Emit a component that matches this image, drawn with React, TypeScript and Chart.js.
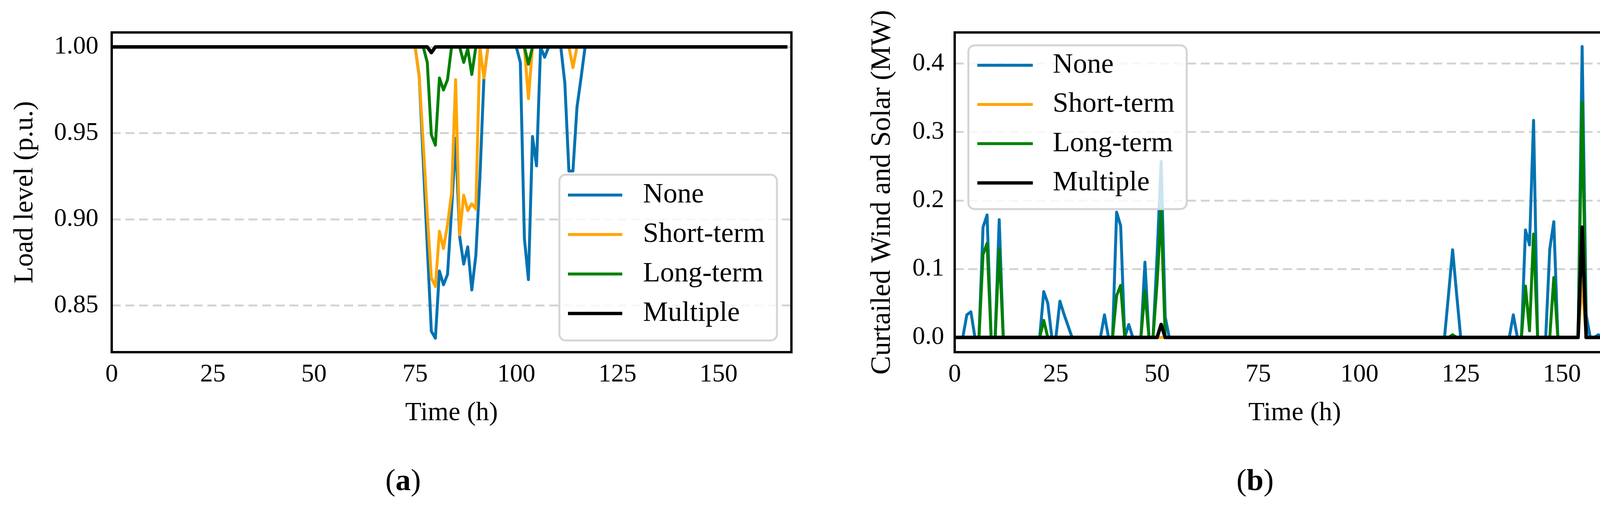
import React, { useEffect, useRef } from 'react';
import { Chart, registerables } from 'chart.js';

Chart.register(...registerables);

const FONT = "'Liberation Serif', 'Times New Roman', serif";

// shared axis / legend data
const hourTicks = [0, 25, 50, 75, 100, 125, 150];
const loadTicks = [0.85, 0.9, 0.95, 1.0];
const curtailTicks = [0, 0.1, 0.2, 0.3, 0.4];
const seriesNames = ['None', 'Short-term', 'Long-term', 'Multiple'];
const seriesColors = ['#0173b2', '#ffa500', '#008000', '#000000'];

// (a) load level, [hour, p.u.] breakpoints
const loadNone: [number, number][] = [
  [0, 1], [75, 1], [76, 0.983], [77, 0.934], [78, 0.884], [79, 0.835], [80, 0.831], [81, 0.87],
  [82, 0.862], [83, 0.868], [84, 0.905], [85, 0.947], [86, 0.89], [87, 0.874], [88, 0.884],
  [89, 0.859], [90, 0.879], [91, 0.924], [92, 0.982], [93, 1], [100, 1], [101, 0.991],
  [102, 0.889], [103, 0.865], [104, 0.948], [105, 0.931], [106, 1], [107, 0.994], [108, 1],
  [111, 1], [112, 0.979], [113, 0.928], [114, 0.928], [115, 0.965], [116, 0.982], [117, 1], [167, 1],
];
const loadShort: [number, number][] = [
  [0, 1], [75, 1], [76, 0.983], [77, 0.944], [78, 0.903], [79, 0.866], [80, 0.861], [81, 0.893],
  [82, 0.883], [83, 0.897], [84, 0.915], [85, 0.981], [86, 0.891], [87, 0.914], [88, 0.905],
  [89, 0.909], [90, 0.906], [91, 1], [92, 0.982], [93, 1], [102, 1], [103, 0.97], [104, 1],
  [113, 1], [114, 0.988], [115, 1], [167, 1],
];
const loadLong: [number, number][] = [
  [0, 1], [77, 1], [78, 0.991], [79, 0.949], [80, 0.943], [81, 0.982], [82, 0.975], [83, 0.981],
  [84, 1], [86, 1], [87, 0.991], [88, 0.999], [89, 0.984], [90, 1], [102, 1], [103, 0.99],
  [104, 1], [167, 1],
];
const loadMultiple: [number, number][] = [[0, 1], [78, 1], [79, 0.9967], [80, 1], [167, 1]];

// (b) curtailed wind and solar, [hour, MW] breakpoints
const curtNone: [number, number][] = [
  [0, 0], [2, 0], [3, 0.033], [4, 0.0375], [5, 0], [6, 0], [7, 0.161], [8, 0.179], [9, 0], [10, 0],
  [11, 0.172], [12, 0], [21, 0], [22, 0.067], [23, 0.05], [24, 0], [25, 0], [26, 0.053], [27, 0.034],
  [28, 0.017], [29, 0], [36, 0], [37, 0.033], [38, 0], [39, 0], [40, 0.183], [41, 0.163], [42, 0],
  [43, 0.019], [44, 0], [46, 0], [47, 0.11], [48, 0], [49, 0], [50, 0.12], [51, 0.257], [52, 0.03],
  [53, 0], [121, 0], [122, 0.063], [123, 0.128], [124, 0.063], [125, 0], [137, 0], [138, 0.033],
  [139, 0], [140, 0], [141, 0.157], [142, 0.135], [143, 0.317], [144, 0], [146, 0], [147, 0.129],
  [148, 0.169], [149, 0], [154, 0], [155, 0.425], [156, 0.033], [157, 0], [158, 0], [159, 0.004],
  [160, 0], [163, 0], [164, 0.149], [165, 0.107], [166, 0], [167, 0],
];
const curtShort: [number, number][] = [[0, 0], [154, 0], [155, 0.082], [156, 0], [167, 0]];
const curtLong: [number, number][] = [
  [0, 0], [6, 0], [7, 0.121], [8, 0.1375], [9, 0], [10, 0], [11, 0.129], [12, 0], [21, 0],
  [22, 0.025], [23, 0], [39, 0], [40, 0.061], [41, 0.076], [42, 0], [46, 0], [47, 0.068], [48, 0],
  [49, 0], [50, 0.08], [51, 0.185], [52, 0], [122, 0], [123, 0.004], [124, 0], [140, 0],
  [141, 0.075], [142, 0.0097], [143, 0.151], [144, 0], [147, 0], [148, 0.0875], [149, 0], [154, 0],
  [155, 0.344], [156, 0], [163, 0], [164, 0.065], [165, 0.0056], [166, 0], [167, 0],
];
const curtMultiple: [number, number][] = [
  [0, 0], [50, 0], [51, 0.019], [52, 0], [154, 0], [155, 0.161], [156, 0], [167, 0],
];

type LegendBox = { x: number; y: number; w: number; h: number; firstY: number; step: number; handleX: number; handleW: number; textX: number };

const frameAndLegend = (lb: LegendBox) => ({
  id: 'frameAndLegend',
  afterDatasetsDraw(chart: Chart) {
    const { ctx, chartArea: a } = chart;
    ctx.save();
    ctx.setLineDash([]);
    ctx.strokeStyle = '#000';
    ctx.lineWidth = 6;
    ctx.strokeRect(a.left, a.top, a.right - a.left, a.bottom - a.top);

    ctx.beginPath();
    ctx.roundRect(lb.x, lb.y, lb.w, lb.h, 16);
    ctx.fillStyle = 'rgba(255,255,255,0.8)';
    ctx.fill();
    ctx.strokeStyle = '#d4d4d4';
    ctx.lineWidth = 5;
    ctx.stroke();

    ctx.font = `72px ${FONT}`;
    ctx.textBaseline = 'middle';
    ctx.textAlign = 'left';
    seriesNames.forEach((name, i) => {
      const y = lb.firstY + i * lb.step;
      ctx.strokeStyle = seriesColors[i];
      ctx.lineWidth = i === 3 ? 8.5 : 7.5;
      ctx.beginPath();
      ctx.moveTo(lb.handleX, y);
      ctx.lineTo(lb.handleX + lb.handleW, y);
      ctx.stroke();
      ctx.fillStyle = '#000';
      ctx.fillText(name, lb.textX, y);
    });
    ctx.restore();
  },
});

type PanelProps = {
  left: number;
  series: [number, number][][];
  yMin: number;
  yMax: number;
  yTicks: number[];
  decimals: number;
  yTitle: string;
  yTitleSize: number;
  yTitlePad: number;
  yTickPad: number;
  yAxisWidth: number;
  padRight: number;
  legend: LegendBox;
};

const Panel = (p: PanelProps) => {
  const canvasRef = useRef<HTMLCanvasElement>(null);

  useEffect(() => {
    const ctx = canvasRef.current?.getContext('2d');
    if (!ctx) return;
    const chart = new Chart(ctx, {
      type: 'line',
      data: {
        datasets: p.series.map((s, i) => ({
          label: seriesNames[i],
          data: s.map(([x, y]) => ({ x, y })),
          borderColor: seriesColors[i],
          backgroundColor: seriesColors[i],
          borderWidth: i === 3 ? 9 : 7.5,
          borderJoinStyle: 'round' as const,
          pointRadius: 0,
          tension: 0,
          fill: false,
          order: 4 - i,
        })),
      },
      options: {
        responsive: false,
        animation: false,
        devicePixelRatio: 1,
        layout: { padding: { left: 0, top: 83, right: p.padRight, bottom: 0 } },
        plugins: { legend: { display: false }, tooltip: { enabled: false } },
        scales: {
          x: {
            type: 'linear',
            min: 0,
            max: 168,
            afterBuildTicks: (scale: any) => { scale.ticks = hourTicks.map(v => ({ value: v })); },
            afterFit: (scale: any) => { scale.height = 391; },
            grid: { display: false, drawTicks: false },
            border: { display: false },
            ticks: {
              autoSkip: false,
              maxRotation: 0,
              padding: 19,
              color: '#000',
              font: { family: FONT, size: 65 },
              callback: (v: any) => String(v),
            },
            title: {
              display: true,
              text: 'Time (h)',
              color: '#000',
              font: { family: FONT, size: 68 },
              padding: { top: 0, bottom: 194 },
            },
          },
          y: {
            type: 'linear',
            min: p.yMin,
            max: p.yMax,
            afterBuildTicks: (scale: any) => { scale.ticks = p.yTicks.map(v => ({ value: v })); },
            afterFit: (scale: any) => { scale.width = p.yAxisWidth; },
            grid: { color: '#d4d4d4', lineWidth: 5, drawTicks: false },
            border: { display: false, dash: [23, 12] },
            ticks: {
              padding: p.yTickPad,
              color: '#000',
              font: { family: FONT, size: 65 },
              callback: (v: any) => Number(v).toFixed(p.decimals),
            },
            title: {
              display: true,
              text: p.yTitle,
              color: '#000',
              font: { family: FONT, size: p.yTitleSize },
              padding: { top: p.yTitlePad, bottom: 0 },
            },
          },
        },
      },
      plugins: [frameAndLegend(p.legend)],
    });
    return () => chart.destroy();
  }, []);

  return (
    <div style={{ position: 'absolute', left: p.left, top: 0, width: 2108, height: 1292 }}>
      <canvas ref={canvasRef} width={2108} height={1292} />
    </div>
  );
};

const captionStyle: React.CSSProperties = {
  position: 'absolute',
  top: 1228,
  transform: 'translate(-50%, -50%)',
  fontFamily: FONT,
  fontSize: 78,
  lineHeight: 1,
  color: '#000',
  whiteSpace: 'nowrap',
};

export default function App() {
  return (
    <div style={{ position: 'absolute', left: 0, top: 0, width: 4216, height: 1292, background: '#fff', overflow: 'hidden' }}>
      <Panel
        left={0}
        series={[loadNone, loadShort, loadLong, loadMultiple]}
        yMin={0.8229}
        yMax={1.0084}
        yTicks={loadTicks}
        decimals={2}
        yTitle="Load level (p.u.)"
        yTitleSize={70}
        yTitlePad={23}
        yTickPad={34}
        yAxisWidth={286}
        padRight={82}
        legend={{ x: 1432, y: 447, w: 557, h: 424, firstY: 499, step: 101, handleX: 1454, handleW: 139, textX: 1646 }}
      />
      <Panel
        left={2108}
        series={[curtNone, curtShort, curtLong, curtMultiple]}
        yMin={-0.0215}
        yMax={0.4455}
        yTicks={curtailTicks}
        decimals={1}
        yTitle="Curtailed Wind and Solar (MW)"
        yTitleSize={72}
        yTitlePad={108}
        yTickPad={27}
        yAxisWidth={336}
        padRight={31}
        legend={{ x: 371, y: 116, w: 559, h: 419, firstY: 167, step: 100.3, handleX: 394, handleW: 142, textX: 587 }}
      />
      <div style={{ ...captionStyle, left: 1032 }}>(<b>a</b>)</div>
      <div style={{ ...captionStyle, left: 3213 }}>(<b>b</b>)</div>
    </div>
  );
}
